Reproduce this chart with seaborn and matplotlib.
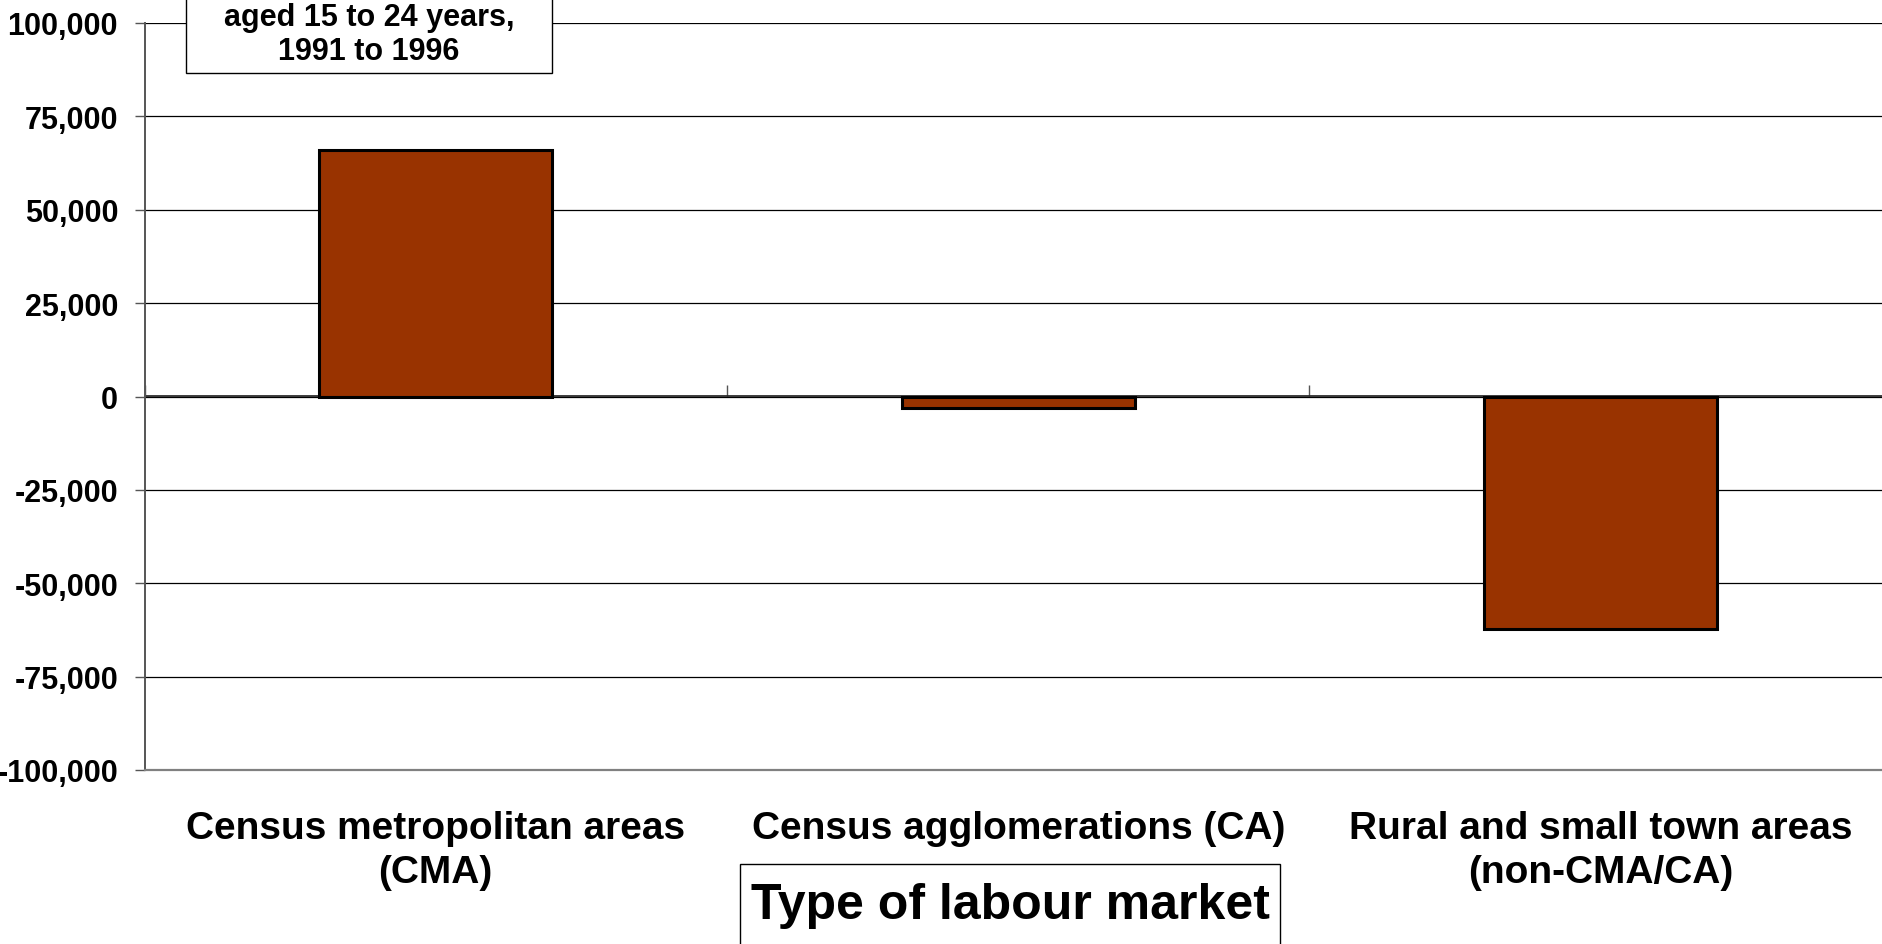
import matplotlib
matplotlib.use("Agg")
import matplotlib.pyplot as plt
import matplotlib.patches as mpatches
from matplotlib.ticker import FuncFormatter
import seaborn as sns
import pandas as pd

# ---- data ----
categories = ["Census metropolitan areas\n(CMA)",
              "Census agglomerations (CA)",
              "Rural and small town areas\n(non-CMA/CA)"]
net_migration = [66000, -3100, -62200]
y_ticks = [-100000, -75000, -50000, -25000, 0, 25000, 50000, 75000, 100000]
box_text = "aged 15 to 24 years,\n1991 to 1996"
x_title = "Type of labour market"

sns.set_theme(style="white")
plt.rcParams['font.family'] = ['Liberation Sans', 'DejaVu Sans']
plt.rcParams['font.weight'] = 'bold'

W, H = 1883, 945
fig = plt.figure(figsize=(W / 100, H / 100), dpi=100)
ax = fig.add_axes([144.5 / W, 1 - 771 / H, 1747.5 / W, 747 / H])

df = pd.DataFrame({"market": categories, "value": net_migration})
sns.barplot(data=df, x="market", y="value", color="#993300", saturation=1,
            width=0.4, edgecolor="black", linewidth=2.2, ax=ax, zorder=3)

ax.set_xlim(-0.5, 2.5)
ax.set_ylim(-100000, 100000)
ax.set_yticks(y_ticks)
ax.yaxis.set_major_formatter(FuncFormatter(lambda v, p: f"{int(v):,}"))
ax.yaxis.grid(True, color="black", linewidth=0.9, zorder=0)
ax.set_axisbelow(True)
ax.set_xlabel("")

for s in ["top", "right"]:
    ax.spines[s].set_visible(False)
ax.spines["left"].set_color("#555555")
ax.spines["left"].set_linewidth(1.4)
ax.spines["bottom"].set_color("#808080")
ax.spines["bottom"].set_linewidth(1.6)

ax.tick_params(axis="y", which="major", direction="out", length=7, width=1,
               color="#555555", pad=12, labelsize=22, labelcolor="black", left=True)
ax.tick_params(axis="x", which="major", length=0, pad=28.5, labelsize=28,
               labelcolor="black")
for lab in ax.get_xticklabels() + ax.get_yticklabels():
    lab.set_fontweight("bold")
for lab in ax.get_xticklabels():
    lab.set_linespacing(1.3)

# zero line with category boundary ticks
sec = ax.secondary_xaxis(0.5)
sec.set_xticks([-0.5, 0.5, 1.5, 2.5])
sec.set_xticklabels([])
sec.tick_params(axis="x", direction="out", length=8, width=1, color="#555555")
sec.spines["bottom"].set_color("black")
sec.spines["bottom"].set_linewidth(1.0)

# x title in box (box extends past the bottom edge)
xrect = mpatches.Rectangle((740 / W, -0.05), 540 / W, 0.05 + (945 - 865) / H,
                           transform=fig.transFigure, facecolor="white",
                           edgecolor="black", linewidth=1.0, zorder=5)
fig.patches.append(xrect)
fig.text(1010 / W, 1 - 906 / H, x_title, ha="center", va="center",
         fontsize=36, fontweight="bold", color="black", zorder=6)

# partially visible title box at top-left
rect = mpatches.Rectangle((186 / W, 1 - 74 / H), 366 / W, 0.2,
                          transform=fig.transFigure, facecolor="white",
                          edgecolor="black", linewidth=1.0, zorder=5)
fig.patches.append(rect)
fig.text(369 / W, 1 - 35 / H, box_text, ha="center", va="center",
         fontsize=22, fontweight="bold", color="black", linespacing=1.2,
         zorder=6)

fig.savefig("out.png", dpi=100)
